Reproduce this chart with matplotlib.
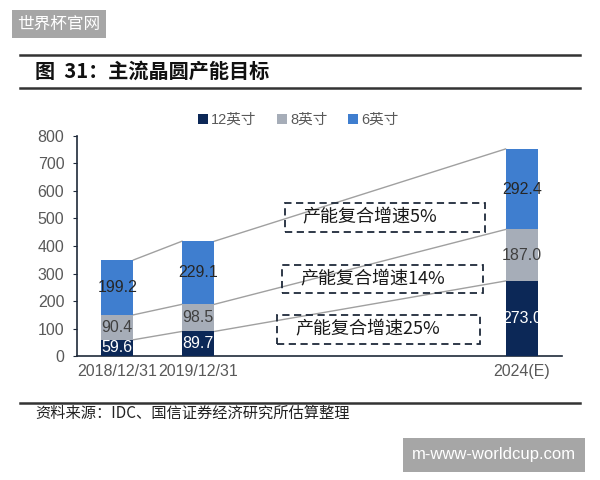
import numpy as np
import matplotlib.pyplot as plt
from matplotlib.patches import Rectangle

plt.rcParams['font.family'] = ['Liberation Sans', 'Noto Sans CJK SC', 'DejaVu Sans']

# data
periods = ["2018/12/31", "2019/12/31", "2024(E)"]
positions = [0, 1, 5]
series_names = ["12英寸", "8英寸", "6英寸"]
wafer_12 = [59.6, 89.7, 273.0]
wafer_8 = [90.4, 98.5, 187.0]
wafer_6 = [199.2, 229.1, 292.4]
growth_labels = ["产能复合增速5%", "产能复合增速14%", "产能复合增速25%"]

colors = ["#0c2857", "#a6adb8", "#3f7ecf"]
label_colors = ["white", "#404040", "#262626"]
grid_gray = "#595959"
cjk = ["Noto Sans CJK SC", "DejaVu Sans"]

fig = plt.figure(figsize=(6, 4.8), dpi=100)
ax = fig.add_axes([0.128, 0.258, 0.809, 0.459])

bottoms = np.zeros(3)
tops = []
for vals, col, lc, name in zip([wafer_12, wafer_8, wafer_6], colors, label_colors, series_names):
    vals = np.array(vals)
    ax.bar(positions, vals, width=0.4, bottom=bottoms, color=col, label=name, zorder=3)
    for x, b, v in zip(positions, bottoms, vals):
        ax.text(x, b + v / 2, f"{v:.1f}", ha="center", va="center",
                fontsize=11.5, color=lc, zorder=4)
    bottoms = bottoms + vals
    tops.append(bottoms.copy())

# connecting lines between the bars
hw = 0.2
for t in tops:
    for i in range(len(positions) - 1):
        ax.plot([positions[i] + hw, positions[i + 1] - hw], [t[i], t[i + 1]],
                color="#a0a0a0", lw=1.0, zorder=2)

# dashed boxes with growth rates
boxes = [(2.07, 451, 2.48, 105), (2.04, 229, 2.48, 102), (1.98, 44, 2.51, 105)]
for (bx, by, bw, bh), txt in zip(boxes, growth_labels):
    ax.add_patch(Rectangle((bx, by), bw, bh, fill=False,
                           edgecolor="#1f2a3a", lw=1.3, ls=(0, (4, 2.5)), zorder=5))
    ax.text(bx + 0.22, by + bh / 2, txt, ha="left", va="center",
            fontsize=13, color="#1a1a1a", zorder=6, family=cjk)

ax.set_xlim(-0.5, 5.5)
ax.set_ylim(0, 800)
ax.set_yticks(range(0, 801, 100))
ax.set_xticks(positions)
ax.set_xticklabels(periods)
ax.tick_params(axis="y", labelsize=11.5, colors=grid_gray, length=3, color="#1f2a3a", pad=6)
ax.tick_params(axis="x", labelsize=11.5, colors=grid_gray, length=0, pad=6)
for s in ["top", "right"]:
    ax.spines[s].set_visible(False)
ax.spines["left"].set_color("#1f2a3a")
ax.spines["bottom"].set_color("#1f2a3a")
ax.spines["left"].set_linewidth(1.2)
ax.spines["bottom"].set_linewidth(1.2)

fig.legend(loc="center", bbox_to_anchor=(0.497, 0.75), ncol=3, frameon=False,
           handlelength=0.7, handleheight=0.7, handletextpad=0.2,
           columnspacing=1.4, labelcolor=grid_gray,
           prop={"family": ["Liberation Sans", "Noto Sans CJK SC"], "size": 10.5})

# header, rules and source
for yy in [1 - 55 / 480, 1 - 88 / 480, 1 - 403 / 480]:
    fig.add_artist(plt.Line2D([20 / 600, 580 / 600], [yy, yy], color="#333333", lw=1.8))
fig.text(35 / 600, 1 - 71 / 480, "图  31：主流晶圆产能目标", fontsize=14.5, fontweight="bold",
         va="center", ha="left", family=cjk, color="#111111")
fig.text(35 / 600, 1 - 413 / 480, "资料来源：IDC、国信证券经济研究所估算整理", fontsize=11,
         va="center", ha="left", family=cjk, color="#222222")

# watermarks
fig.text(59 / 600, 1 - 24 / 480, "世界杯官网", fontsize=12, color="white", ha="center", va="center",
         family=cjk,
         bbox=dict(boxstyle="square,pad=0.35", facecolor="#a6a6a6", edgecolor="none"))
fig.text(494 / 600, 1 - 455 / 480, "m-www-worldcup.com", fontsize=12, color="white",
         ha="center", va="center",
         bbox=dict(boxstyle="square,pad=0.55", facecolor="#a6a6a6", edgecolor="none"))

fig.savefig("out.png", dpi=100)
